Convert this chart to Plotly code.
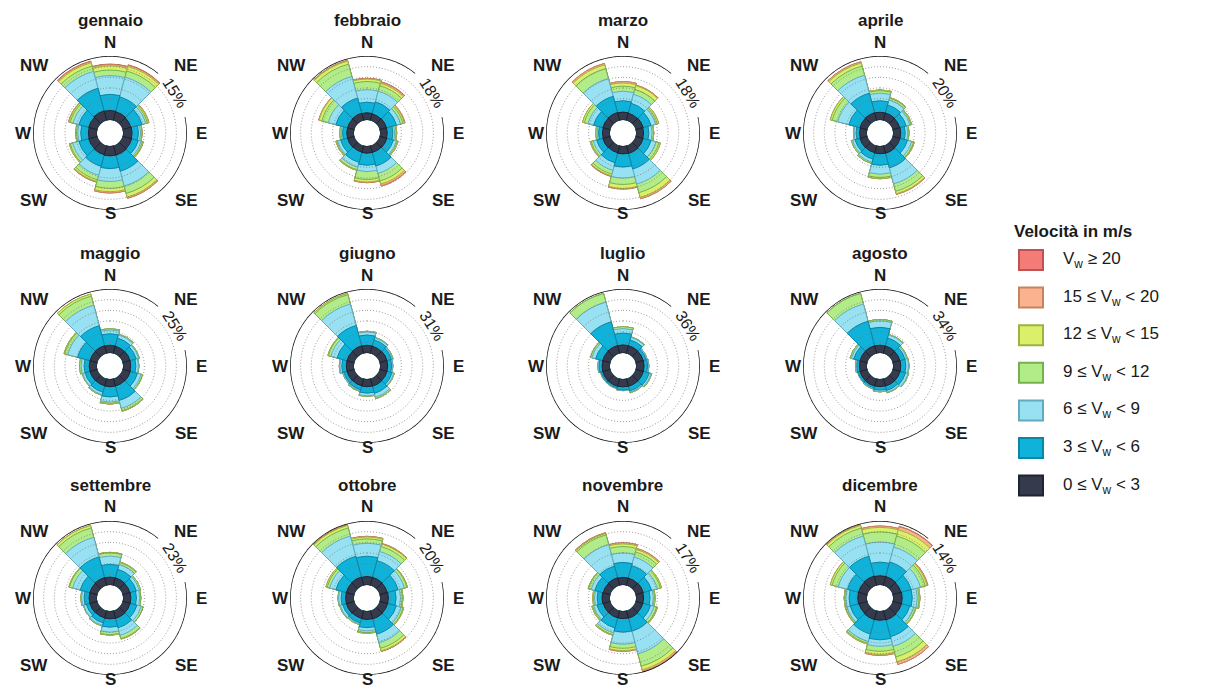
import math
import plotly.graph_objects as go

W, H = 1227, 695
R_PX = 77  # radius of each rose in pixels

mesi = ["gennaio", "febbraio", "marzo", "aprile", "maggio", "giugno",
        "luglio", "agosto", "settembre", "ottobre", "novembre", "dicembre"]
fondo_scala = [15, 18, 18, 20, 25, 31, 36, 34, 23, 20, 17, 14]
direzioni = [0, 30, 60, 90, 120, 150, 180, 210, 240, 270, 300, 330]
etichette_classi = [
    "0 ≤ V<sub>w</sub> &lt; 3",
    "3 ≤ V<sub>w</sub> &lt; 6",
    "6 ≤ V<sub>w</sub> &lt; 9",
    "9 ≤ V<sub>w</sub> &lt; 12",
    "12 ≤ V<sub>w</sub> &lt; 15",
    "15 ≤ V<sub>w</sub> &lt; 20",
    "V<sub>w</sub> ≥ 20",
]

# Cumulative frequency (%) per direction, one row per upper speed class
gennaio = [
    [2.2, 2.1, 2.0, 2.1, 2.2, 2.3, 2.3, 2.2, 2.1, 2.0, 2.1, 2.3],
    [6.0, 5.7, 4.7, 3.6, 3.8, 6.2, 5.3, 5.0, 4.5, 3.8, 4.5, 7.8],
    [10.4, 10.5, 5.6, 4.1, 4.5, 9.8, 8.3, 7.2, 6.0, 4.5, 5.9, 11.9],
    [11.7, 12.0, 6.0, 4.4, 4.8, 11.6, 9.9, 8.3, 6.6, 4.8, 6.6, 13.2],
    [12.7, 13.1, 6.3, 4.5, 5.0, 12.5, 10.7, 8.7, 6.8, 5.0, 6.9, 14.0],
    [13.0, 13.4, 6.4, 4.5, 5.0, 12.8, 11.0, 8.9, 6.8, 5.0, 7.0, 14.3],
    [13.1, 13.5, 6.4, 4.5, 5.0, 12.8, 11.0, 8.9, 6.8, 5.0, 7.0, 14.4],
]
febbraio = [
    [2.0, 1.9, 2.0, 2.0, 2.1, 2.0, 2.0, 1.9, 2.0, 2.0, 2.0, 2.1],
    [5.0, 5.4, 4.9, 3.6, 4.0, 5.9, 5.4, 4.9, 4.0, 3.2, 5.4, 6.5],
    [8.5, 8.5, 6.1, 4.1, 4.9, 8.1, 7.2, 6.3, 4.9, 3.6, 7.6, 12.8],
    [10.8, 10.1, 6.8, 4.5, 5.2, 10.3, 9.4, 7.0, 5.2, 4.0, 9.5, 16.4],
    [11.5, 10.8, 7.2, 4.7, 5.4, 11.2, 10.1, 7.2, 5.4, 4.0, 10.3, 17.3],
    [11.7, 11.2, 7.4, 4.7, 5.4, 11.7, 10.3, 7.2, 5.4, 4.0, 10.4, 17.5],
    [11.7, 11.3, 7.4, 4.7, 5.4, 11.8, 10.3, 7.2, 5.4, 4.0, 10.4, 17.5],
]
marzo = [
    [2.2, 2.1, 2.2, 2.1, 2.2, 2.3, 2.2, 2.1, 2.2, 2.1, 2.2, 2.3],
    [5.4, 5.0, 4.5, 3.6, 4.5, 6.8, 5.9, 5.0, 4.0, 3.2, 4.9, 7.0],
    [8.1, 7.6, 5.8, 4.5, 5.9, 11.2, 9.0, 7.2, 5.0, 3.6, 6.5, 12.2],
    [9.5, 9.0, 6.3, 4.9, 6.8, 13.7, 10.8, 8.3, 5.6, 4.0, 7.6, 15.1],
    [10.4, 10.1, 6.7, 5.0, 7.2, 15.1, 11.9, 8.8, 5.8, 4.0, 8.1, 16.2],
    [10.8, 10.3, 6.7, 5.0, 7.2, 15.5, 12.1, 9.0, 5.8, 4.0, 8.1, 16.6],
    [10.8, 10.3, 6.7, 5.0, 7.2, 15.5, 12.1, 9.0, 5.8, 4.0, 8.1, 16.6],
]
aprile = [
    [2.4, 2.4, 2.3, 2.4, 2.4, 2.5, 2.4, 2.3, 2.4, 2.3, 2.4, 2.5],
    [6.0, 5.0, 4.4, 3.8, 4.8, 7.2, 6.0, 4.4, 4.0, 3.4, 6.0, 8.8],
    [8.4, 6.6, 5.6, 4.6, 6.2, 12.4, 8.8, 5.4, 4.8, 4.0, 9.6, 14.6],
    [9.2, 7.2, 6.0, 5.0, 6.8, 14.8, 9.8, 5.8, 5.2, 4.2, 11.4, 17.6],
    [9.4, 7.4, 6.2, 5.0, 7.0, 15.6, 10.2, 5.8, 5.2, 4.2, 12.0, 18.6],
    [9.4, 7.4, 6.2, 5.0, 7.0, 15.8, 10.2, 5.8, 5.2, 4.2, 12.0, 19.0],
    [9.4, 7.4, 6.2, 5.0, 7.0, 15.8, 10.2, 5.8, 5.2, 4.2, 12.0, 19.0],
]
maggio = [
    [3.0, 2.9, 3.0, 3.0, 3.1, 3.0, 3.0, 2.9, 3.0, 3.0, 3.0, 3.1],
    [7.5, 6.2, 5.5, 5.0, 6.0, 8.8, 7.0, 5.5, 5.0, 5.0, 8.0, 11.2],
    [9.0, 7.5, 6.5, 6.0, 7.5, 12.0, 9.0, 6.5, 6.0, 6.2, 12.0, 19.5],
    [9.5, 7.8, 6.8, 6.2, 8.0, 13.0, 9.5, 6.8, 6.2, 6.8, 13.2, 23.2],
    [9.5, 7.8, 6.8, 6.2, 8.0, 13.2, 9.8, 6.8, 6.2, 6.8, 13.5, 24.0],
    [9.5, 7.8, 6.8, 6.2, 8.0, 13.2, 9.8, 6.8, 6.2, 6.8, 13.5, 24.0],
    [9.5, 7.8, 6.8, 6.2, 8.0, 13.2, 9.8, 6.8, 6.2, 6.8, 13.5, 24.0],
]
giugno = [
    [3.7, 3.6, 3.7, 3.7, 3.7, 3.8, 3.7, 3.6, 3.7, 3.7, 3.7, 3.8],
    [8.7, 6.8, 5.9, 5.6, 6.2, 7.4, 6.8, 5.6, 5.3, 5.9, 8.7, 14.0],
    [10.2, 7.8, 6.5, 6.2, 7.1, 9.3, 8.1, 6.2, 5.9, 6.8, 11.8, 24.8],
    [10.5, 8.1, 6.8, 6.2, 7.4, 9.9, 8.4, 6.5, 5.9, 7.1, 13.0, 29.5],
    [10.5, 8.1, 6.8, 6.2, 7.4, 9.9, 8.4, 6.5, 5.9, 7.1, 13.3, 30.1],
    [10.5, 8.1, 6.8, 6.2, 7.4, 9.9, 8.4, 6.5, 5.9, 7.1, 13.3, 30.1],
    [10.5, 8.1, 6.8, 6.2, 7.4, 9.9, 8.4, 6.5, 5.9, 7.1, 13.3, 30.1],
]
luglio = [
    [4.5, 4.5, 4.4, 4.5, 4.5, 4.5, 4.4, 4.5, 4.5, 4.4, 4.5, 4.6],
    [11.2, 7.9, 6.1, 6.5, 7.9, 7.2, 6.1, 5.4, 5.4, 6.1, 8.6, 18.4],
    [13.7, 9.4, 6.8, 7.2, 9.0, 7.9, 6.5, 5.8, 5.8, 6.8, 10.8, 29.9],
    [14.8, 9.7, 6.8, 7.2, 9.4, 8.3, 6.5, 5.8, 5.8, 6.8, 11.5, 34.9],
    [14.8, 9.7, 6.8, 7.2, 9.4, 8.3, 6.5, 5.8, 5.8, 6.8, 11.5, 34.9],
    [14.8, 9.7, 6.8, 7.2, 9.4, 8.3, 6.5, 5.8, 5.8, 6.8, 11.5, 34.9],
    [14.8, 9.7, 6.8, 7.2, 9.4, 8.3, 6.5, 5.8, 5.8, 6.8, 11.5, 34.9],
]
agosto = [
    [4.1, 4.1, 4.0, 4.1, 4.1, 4.1, 4.0, 4.1, 4.1, 4.0, 4.1, 4.2],
    [13.6, 8.5, 6.8, 6.8, 7.1, 6.5, 5.8, 5.1, 5.1, 5.4, 7.5, 17.7],
    [17.0, 10.2, 7.8, 8.2, 8.5, 7.5, 6.5, 5.8, 5.4, 6.1, 8.8, 27.2],
    [17.7, 10.5, 8.2, 8.5, 8.8, 7.8, 6.8, 5.8, 5.4, 6.1, 9.5, 33.0],
    [17.7, 10.5, 8.2, 8.5, 8.8, 7.8, 6.8, 5.8, 5.4, 6.1, 9.5, 33.0],
    [17.7, 10.5, 8.2, 8.5, 8.8, 7.8, 6.8, 5.8, 5.4, 6.1, 9.5, 33.0],
    [17.7, 10.5, 8.2, 8.5, 8.8, 7.8, 6.8, 5.8, 5.4, 6.1, 9.5, 33.0],
]
settembre = [
    [2.8, 2.8, 2.7, 2.8, 2.8, 2.9, 2.8, 2.7, 2.8, 2.8, 2.8, 2.9],
    [7.4, 6.0, 5.1, 4.8, 5.3, 6.4, 5.8, 4.6, 4.1, 4.6, 6.4, 10.6],
    [10.4, 7.8, 6.2, 6.0, 6.9, 9.2, 7.6, 5.5, 5.1, 5.5, 9.2, 17.9],
    [11.5, 8.5, 6.7, 6.4, 7.6, 10.4, 8.5, 5.8, 5.3, 5.8, 10.4, 21.4],
    [11.7, 8.7, 6.7, 6.4, 7.6, 10.6, 8.7, 5.8, 5.3, 5.8, 10.6, 22.3],
    [11.7, 8.7, 6.7, 6.4, 7.6, 10.6, 8.7, 5.8, 5.3, 5.8, 10.6, 22.3],
    [11.7, 8.7, 6.7, 6.4, 7.6, 10.6, 8.7, 5.8, 5.3, 5.8, 10.6, 22.3],
]
ottobre = [
    [2.6, 2.6, 2.5, 2.6, 2.6, 2.7, 2.6, 2.5, 2.6, 2.6, 2.6, 2.7],
    [9.0, 8.0, 6.0, 5.0, 5.4, 7.6, 5.2, 4.0, 3.8, 4.0, 6.0, 9.4],
    [13.0, 11.0, 8.0, 6.4, 7.0, 10.4, 6.2, 4.4, 4.6, 4.8, 8.0, 16.0],
    [14.4, 12.6, 8.8, 7.0, 7.6, 12.2, 6.8, 4.6, 4.8, 5.0, 8.8, 18.6],
    [15.0, 13.4, 9.0, 7.2, 7.8, 13.0, 7.0, 4.6, 4.8, 5.0, 9.2, 19.4],
    [15.2, 13.6, 9.0, 7.2, 7.8, 13.2, 7.0, 4.6, 4.8, 5.0, 9.2, 19.6],
    [15.2, 13.6, 9.0, 7.2, 7.8, 13.2, 7.0, 4.6, 4.8, 5.0, 9.2, 19.6],
]
novembre = [
    [2.0, 2.0, 2.1, 2.0, 2.0, 2.1, 2.0, 2.0, 2.0, 2.1, 2.0, 2.1],
    [6.0, 5.4, 4.4, 3.7, 4.1, 5.6, 5.6, 4.8, 3.7, 3.4, 4.3, 5.3],
    [8.5, 7.8, 6.0, 4.6, 5.1, 11.9, 8.8, 6.1, 4.6, 4.1, 5.3, 11.2],
    [10.2, 9.2, 6.8, 4.9, 5.8, 15.3, 9.9, 6.6, 4.9, 4.4, 6.0, 13.9],
    [10.9, 9.9, 7.1, 5.1, 6.0, 16.3, 10.5, 6.8, 5.1, 4.6, 6.1, 14.3],
    [11.2, 10.2, 7.1, 5.1, 6.0, 16.7, 10.7, 6.8, 5.1, 4.6, 6.1, 14.5],
    [11.2, 10.2, 7.1, 5.1, 6.0, 16.8, 10.7, 6.8, 5.1, 4.6, 6.1, 14.5],
]
dicembre = [
    [2.0, 2.0, 1.9, 2.0, 2.0, 2.1, 2.0, 2.0, 1.9, 2.0, 2.0, 2.1],
    [5.0, 5.3, 4.2, 4.2, 3.9, 5.9, 6.3, 5.3, 3.9, 3.9, 4.5, 6.6],
    [9.4, 8.7, 6.3, 5.3, 4.8, 8.1, 7.7, 7.0, 4.6, 4.6, 6.6, 11.2],
    [11.6, 11.2, 7.4, 5.7, 5.2, 10.5, 8.8, 7.4, 4.9, 4.9, 8.0, 13.0],
    [12.6, 12.6, 7.8, 5.9, 5.3, 11.6, 9.5, 7.6, 5.0, 5.0, 8.4, 13.6],
    [12.9, 13.3, 8.0, 5.9, 5.3, 12.2, 9.7, 7.6, 5.0, 5.0, 8.4, 13.7],
    [12.9, 13.4, 8.0, 5.9, 5.3, 12.2, 9.7, 7.6, 5.0, 5.0, 8.4, 13.7],
]

frequenze = [gennaio, febbraio, marzo, aprile, maggio, giugno,
             luglio, agosto, settembre, ottobre, novembre, dicembre]

riempimento = ["#353b4d", "#0fb3d9", "#97e1f2", "#b2ec89", "#dcef6b", "#fbb28e", "#f37b78"]
bordo = ["#1f2433", "#0b86a5", "#62abbe", "#76b04f", "#9db33f", "#c7825f", "#bf5252"]

centri_x = [110, 367, 623, 880]
centri_y = [133, 366, 598]

FONT = "Liberation Sans, Arial, Helvetica, sans-serif"
TESTO = "#1a1a1a"


def px(x):
    return x / W


def py(y):
    return 1 - y / H


fig = go.Figure()
annotazioni = []
forme = []
layout_polari = {}

# compass labels: (text, dx, dy) offsets from the rose centre in pixels
punti_cardinali = [("N", 0, -91), ("S", 0, 81), ("W", -87, 0), ("E", 91, 0),
                   ("NW", -76, -67), ("NE", 76, -67), ("SW", -76, 67), ("SE", 76, 67)]

for i, mese in enumerate(mesi):
    cx = centri_x[i % 4]
    cy = centri_y[i // 4]
    sub = "polar" if i == 0 else f"polar{i + 1}"
    cum = frequenze[i]
    vmax = fondo_scala[i]

    # stacked classes drawn from the outermost cumulative value inwards
    for k in range(6, -1, -1):
        fig.add_trace(go.Barpolar(
            r=cum[k], theta=direzioni, width=[30] * len(direzioni), subplot=sub,
            marker=dict(color=riempimento[k], line=dict(color=bordo[k], width=1)),
            showlegend=False, hoverinfo="skip",
        ))

    # dotted reference circles
    giro = list(range(0, 361, 2))
    for t in range(1, 6):
        fig.add_trace(go.Scatterpolar(
            r=[vmax * t / 6] * len(giro), theta=giro, mode="lines", subplot=sub,
            line=dict(color="rgba(120,120,120,0.75)", width=1, dash="1px,2px"),
            showlegend=False, hoverinfo="skip", cliponaxis=False,
        ))

    # outer circle, open where the scale label sits
    arco = list(range(78, 400, 1))
    fig.add_trace(go.Scatterpolar(
        r=[vmax] * len(arco), theta=arco, mode="lines", subplot=sub,
        line=dict(color="#111111", width=1.6),
        showlegend=False, hoverinfo="skip", cliponaxis=False,
    ))

    layout_polari[sub] = dict(
        domain=dict(x=[px(cx - R_PX), px(cx + R_PX)], y=[py(cy + R_PX), py(cy - R_PX)]),
        hole=0.17,
        bgcolor="rgba(0,0,0,0)",
        barmode="overlay",
        bargap=0,
        radialaxis=dict(range=[0, vmax], showgrid=False, showline=False,
                        showticklabels=False, ticks=""),
        angularaxis=dict(rotation=90, direction="clockwise", showgrid=False,
                         showline=False, showticklabels=False, ticks=""),
    )

    annotazioni.append(dict(
        x=px(cx), y=py(cy - 113), xref="paper", yref="paper", text=mese,
        showarrow=False, xanchor="center", yanchor="middle",
        font=dict(family=FONT, size=17, color=TESTO, weight="bold"),
    ))
    for testo, dx, dy in punti_cardinali:
        annotazioni.append(dict(
            x=px(cx + dx), y=py(cy + dy), xref="paper", yref="paper", text=testo,
            showarrow=False, xanchor="center", yanchor="middle",
            font=dict(family=FONT, size=17, color=TESTO, weight="bold"),
        ))
    ang = math.radians(58)
    rl = R_PX * 0.99
    annotazioni.append(dict(
        x=px(cx + rl * math.sin(ang)), y=py(cy - rl * math.cos(ang)),
        xref="paper", yref="paper", text=f"{vmax}%", textangle=58,
        showarrow=False, xanchor="center", yanchor="middle",
        font=dict(family=FONT, size=16, color=TESTO),
    ))

# speed-class key
annotazioni.append(dict(
    x=px(1012), y=py(232), xref="paper", yref="paper", text="Velocità in m/s",
    showarrow=False, xanchor="left", yanchor="middle",
    font=dict(family=FONT, size=17, color=TESTO, weight="bold"),
))
for j, k in enumerate(range(6, -1, -1)):
    yc = 260 + 37.6 * j
    forme.append(dict(
        type="rect", xref="paper", yref="paper",
        x0=px(1019), x1=px(1043), y0=py(yc + 10), y1=py(yc - 10),
        fillcolor=riempimento[k], line=dict(color=bordo[k], width=2),
    ))
    annotazioni.append(dict(
        x=px(1061), y=py(yc), xref="paper", yref="paper", text=etichette_classi[k],
        showarrow=False, xanchor="left", yanchor="middle",
        font=dict(family=FONT, size=17, color=TESTO),
    ))

fig.update_layout(
    width=W, height=H,
    margin=dict(l=0, r=0, t=0, b=0),
    paper_bgcolor="white", plot_bgcolor="white",
    showlegend=False,
    annotations=annotazioni,
    shapes=forme,
    **layout_polari,
)

fig.write_html("out.html")
